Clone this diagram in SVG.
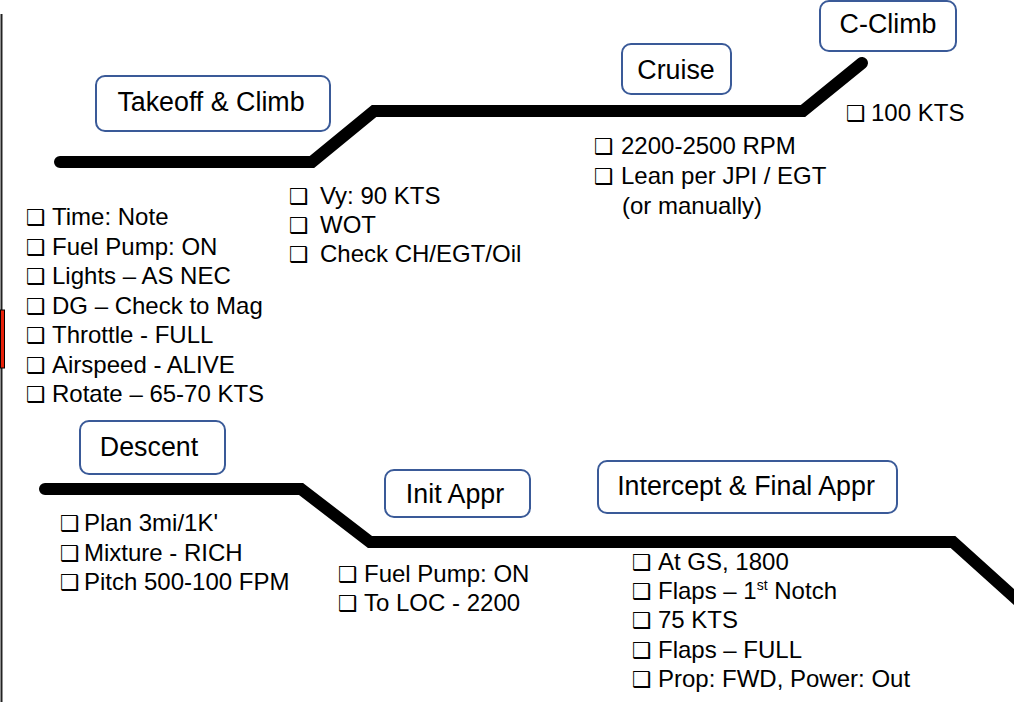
<svg xmlns="http://www.w3.org/2000/svg" width="1014" height="702" viewBox="0 0 1014 702">
<style>
.lbl{font-family:"Liberation Sans",Arial,sans-serif;font-size:26.8px;fill:#000;text-anchor:middle}
.box{fill:#fff;stroke:#3a5a98;stroke-width:2}
.lst{font-family:"Liberation Sans",Arial,sans-serif;font-size:24px;fill:#000}
.cb{font-family:"DejaVu Sans",sans-serif;font-size:22px}
.path{fill:none;stroke:#000;stroke-width:12;stroke-linecap:round;stroke-linejoin:miter}
</style>
<rect width="1014" height="702" fill="#fff"/>
<line x1="1.5" y1="14" x2="1.5" y2="702" stroke="#222" stroke-width="2"/>
<rect x="0.5" y="310" width="4" height="58" fill="#e8220a" stroke="#000" stroke-width="1"/>
<g id="connectors">
<path class="path" d="M60,162 L312,162 L374,111 L803,111 L862,63"/>
<path class="path" d="M45,489 L301,489 L370,542 L953,542 L1024,606"/>
</g>
<g id="takeoff">
<rect class="box" x="96" y="76" width="234" height="55" rx="9"/>
<text class="lbl" x="211" y="111">Takeoff &amp; Climb</text>
</g>
<g id="cruise">
<rect class="box" x="622" y="44" width="109" height="50" rx="9"/>
<text class="lbl" x="676" y="79">Cruise</text>
</g>
<g id="cclimb">
<rect class="box" x="820" y="1" width="136" height="50" rx="9"/>
<text class="lbl" x="888" y="33">C-Climb</text>
</g>
<g id="descent">
<rect class="box" x="80" y="421" width="145" height="53" rx="9"/>
<text class="lbl" x="149" y="456">Descent</text>
</g>
<g id="initappr">
<rect class="box" x="385" y="470" width="145" height="47" rx="9"/>
<text class="lbl" x="455" y="503">Init Appr</text>
</g>
<g id="final">
<rect class="box" x="598" y="461" width="299" height="52" rx="9"/>
<text class="lbl" x="746" y="495">Intercept &amp; Final Appr</text>
</g>
<g id="takeoff-list" class="lst">
<text y="225"><tspan class="cb" x="26">❑</tspan><tspan x="52">Time: Note</tspan></text>
<text y="254.5"><tspan class="cb" x="26">❑</tspan><tspan x="52">Fuel Pump: ON</tspan></text>
<text y="284"><tspan class="cb" x="26">❑</tspan><tspan x="52">Lights – AS NEC</tspan></text>
<text y="313.5"><tspan class="cb" x="26">❑</tspan><tspan x="52">DG – Check to Mag</tspan></text>
<text y="343"><tspan class="cb" x="26">❑</tspan><tspan x="52">Throttle - FULL</tspan></text>
<text y="372.5"><tspan class="cb" x="26">❑</tspan><tspan x="52">Airspeed - ALIVE</tspan></text>
<text y="402"><tspan class="cb" x="26">❑</tspan><tspan x="52">Rotate – 65-70 KTS</tspan></text>
</g>
<g id="climb-list" class="lst">
<text y="204"><tspan class="cb" x="289">❑</tspan><tspan x="320">Vy: 90 KTS</tspan></text>
<text y="233"><tspan class="cb" x="289">❑</tspan><tspan x="320">WOT</tspan></text>
<text y="262"><tspan class="cb" x="289">❑</tspan><tspan x="320">Check CH/EGT/Oil</tspan></text>
</g>
<g id="cruise-list" class="lst">
<text y="154"><tspan class="cb" x="594">❑</tspan><tspan x="621">2200-2500 RPM</tspan></text>
<text y="184"><tspan class="cb" x="594">❑</tspan><tspan x="621">Lean per JPI / EGT</tspan></text>
<text x="622" y="214">(or manually)</text>
</g>
<g id="cclimb-list" class="lst">
<text y="121"><tspan class="cb" x="846">❑</tspan><tspan x="871">100 KTS</tspan></text>
</g>
<g id="descent-list" class="lst">
<text y="531"><tspan class="cb" x="60">❑</tspan><tspan x="84">Plan 3mi/1K'</tspan></text>
<text y="561"><tspan class="cb" x="60">❑</tspan><tspan x="84">Mixture - RICH</tspan></text>
<text y="590"><tspan class="cb" x="60">❑</tspan><tspan x="84">Pitch 500-100 FPM</tspan></text>
</g>
<g id="init-list" class="lst">
<text y="582"><tspan class="cb" x="338">❑</tspan><tspan x="364">Fuel Pump: ON</tspan></text>
<text y="611"><tspan class="cb" x="338">❑</tspan><tspan x="364">To LOC - 2200</tspan></text>
</g>
<g id="final-list" class="lst">
<text y="570"><tspan class="cb" x="632">❑</tspan><tspan x="658">At GS, 1800</tspan></text>
<text y="599"><tspan class="cb" x="632">❑</tspan><tspan x="658">Flaps – 1</tspan><tspan font-size="14" dy="-9">st</tspan><tspan dy="9"> Notch</tspan></text>
<text y="628"><tspan class="cb" x="632">❑</tspan><tspan x="658">75 KTS</tspan></text>
<text y="658"><tspan class="cb" x="632">❑</tspan><tspan x="658">Flaps – FULL</tspan></text>
<text y="687"><tspan class="cb" x="632">❑</tspan><tspan x="658">Prop: FWD, Power: Out</tspan></text>
</g>
</svg>
